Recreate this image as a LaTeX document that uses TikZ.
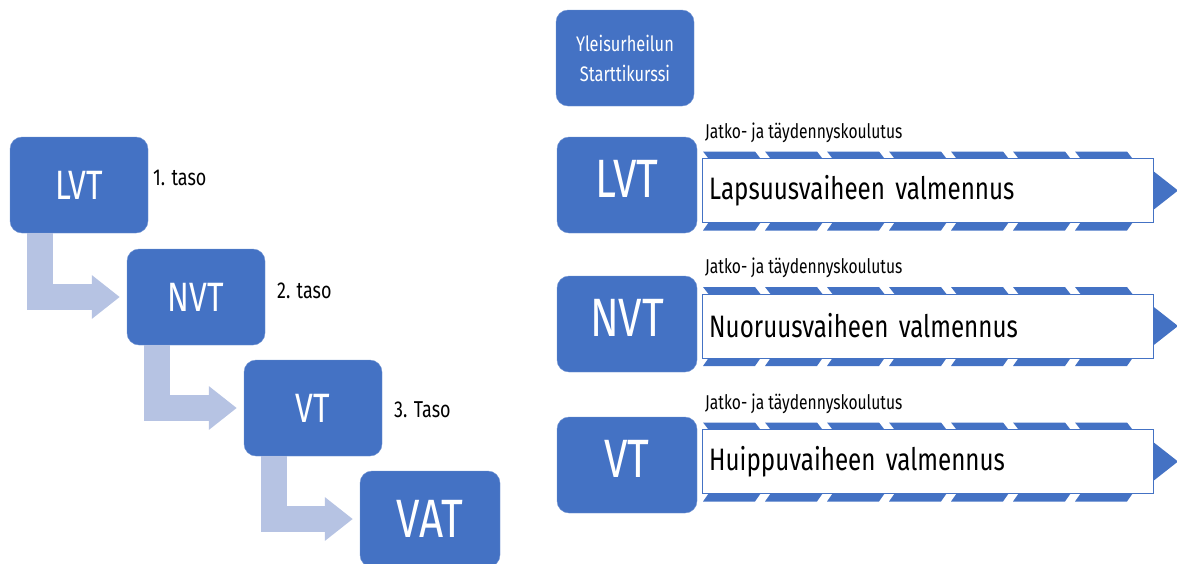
\documentclass[tikz,border=0pt]{standalone}
\usepackage{fontspec}
\setmainfont{Fira Sans}[FakeStretch=0.78]
\usetikzlibrary{arrows.meta}
\definecolor{boxblue}{HTML}{4472C4}
\definecolor{flowblue}{HTML}{B6C3E3}

\begin{document}
\begin{tikzpicture}[x=1pt, y=-1pt,
  box/.style={draw=boxblue!75!white, fill=boxblue, rounded corners=12pt, minimum width=138pt, minimum height=96pt, inner sep=0pt, text=white, font=\fontsize{41}{44}\selectfont},
  bigbox/.style={box, minimum width=140pt, font=\fontsize{54}{58}\selectfont},
  flow/.style={draw=flowblue, line width=26pt, -{Triangle[length=28pt, width=42pt]}, shorten >=7pt},
  taso/.style={anchor=west, inner sep=0pt, font=\fontsize{23}{25}\selectfont},
  band/.style={draw=boxblue, fill=white, minimum width=451pt, minimum height=64pt, anchor=west, inner xsep=7pt, text width=437pt, align=left, font=\fontsize{31}{33}\selectfont},
  note/.style={anchor=west, inner sep=0pt, font=\fontsize{20}{22}\selectfont}]
\useasboundingbox (0,0) rectangle (1177,563);

\node[box] (lvt1) at (79,185) {LVT};
\node[box] (nvt1) at (196,297) {NVT};
\node[box] (vt1) at (313,408) {VT};
\node[bigbox] (vat) at (430,519) {VAT};
\node[taso] (taso1) at (153,178) {1. taso};
\node[taso] (taso2) at (277,291) {2. taso};
\node[taso] (taso3) at (394,410) {3. Taso};
\draw[flow] ([xshift=30pt]lvt1.south west) |- (nvt1.west);
\draw[flow] ([xshift=30pt]nvt1.south west) |- (vt1.west);
\draw[flow] ([xshift=30pt]vt1.south west) |- (vat.west);

\node[box, align=center, font=\fontsize{21}{30}\selectfont] (start) at (625,58) {Yleisurheilun\\Starttikurssi};
\node[bigbox, text depth=12pt] (lvt2) at (627,185) {LVT};
\node[bigbox, text depth=12pt] (nvt2) at (627,324) {NVT};
\node[bigbox, text depth=12pt] (vt2) at (627,465) {VT};

\foreach \n/\cy/\txt in {1/190.5/Lapsuusvaiheen valmennus, 2/326/Nuoruusvaiheen valmennus, 3/461.5/Huippuvaiheen valmennus} {
  \foreach \i in {0,...,6} {
    \fill[boxblue] ({703+62*\i}, \cy-39) -- ++(52,0) -- ++(7,9) -- ++(-52,0) -- cycle;
    \fill[boxblue] ({703+62*\i}, \cy+40) -- ++(52,0) -- ++(7,-10) -- ++(-52,0) -- cycle;
  }
  \fill[boxblue] (1150,\cy-22) -- (1178,\cy) -- (1150,\cy+22) -- cycle;
  \node[band] (band\n) at (702,\cy) {\txt};
  \node[note] (note\n) at (705,\cy-58) {Jatko- ja täydennyskoulutus};
}
\end{tikzpicture}
\end{document}
